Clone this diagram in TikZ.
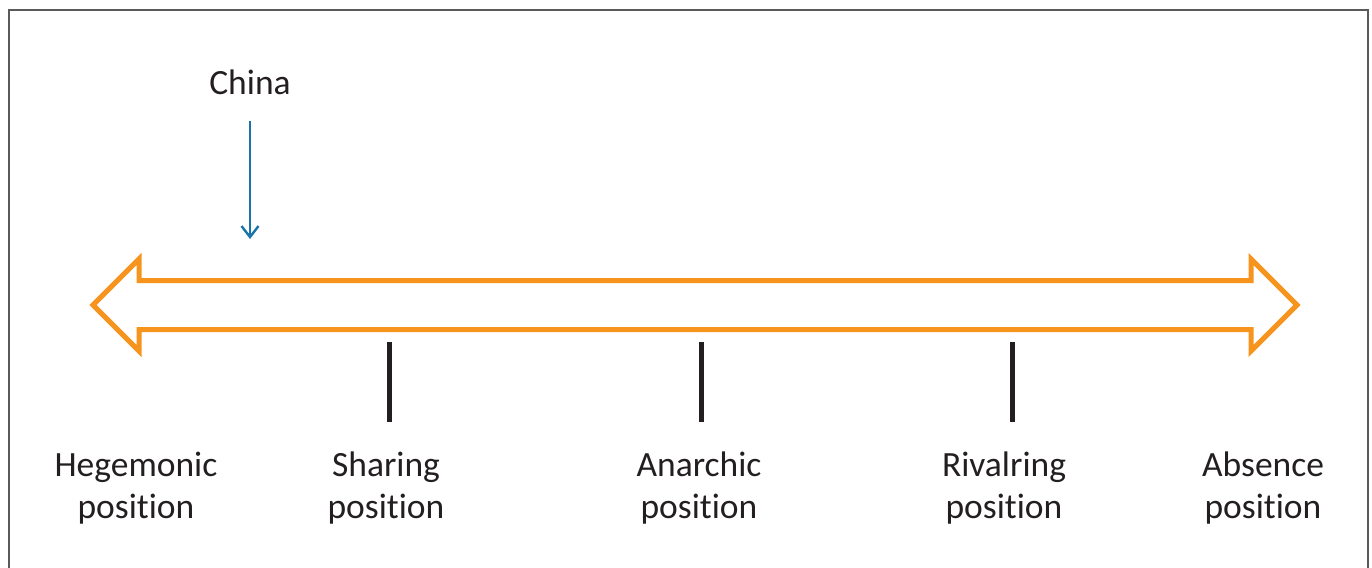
\documentclass[tikz,border=0pt]{standalone}
\usepackage{fontspec}
\setmainfont{Carlito}[Ligatures=NoCommon]
\usetikzlibrary{arrows.meta, positioning, shapes.arrows}

\definecolor{scaleorange}{HTML}{F7941D}
\definecolor{chinablue}{HTML}{1A74AA}
\definecolor{tickgray}{HTML}{231F20}
\definecolor{framegray}{HTML}{5A5A5A}

\begin{document}
\begin{tikzpicture}[x=1pt, y=-1pt,
    frame/.style={draw=framegray, line width=2pt},
    scalearrow/.style={double arrow, draw=scaleorange, line width=5pt, miter limit=20,
        double arrow head extend=21.5pt, double arrow head indent=0pt,
        inner xsep=0pt, inner ysep=22pt, outer sep=0pt, minimum height=1204pt},
    tickmark/.style={draw=tickgray, line width=5pt},
    pointer/.style={draw=chinablue, line width=2.4pt,
        -{Straight Barb[length=11pt, width=17pt, line width=2.4pt]}},
    lbl/.style={align=center, inner sep=0pt, anchor=base, text=tickgray,
        font=\fontsize{35.5}{42}\selectfont}
]
    \useasboundingbox (0,0) rectangle (1372,567);
    \draw[frame] (9,10) rectangle (1368,600);

    % the scale
    \node[scalearrow] (scale) at (695,305) {};

    % ticks
    \draw[tickmark] (389,342) -- (389,422);
    \draw[tickmark] (701,342) -- (701,422);
    \draw[tickmark] (1012,342) -- (1012,422);

    % positions
    \node[lbl] (hegemonic) at (136,518) {Hegemonic\\position};
    \node[lbl] (sharing) at (386,518) {Sharing\\position};
    \node[lbl] (anarchic) at (699,518) {Anarchic\\position};
    \node[lbl] (rivalring) at (1004,518) {Rivalring\\position};
    \node[lbl] (absence) at (1263,518) {Absence\\position};

    % China
    \node[lbl] (china) at (250,95) {China};
    \coordinate (chinatip) at (250,239);
    \draw[pointer, shorten <=26pt] (china.base) -- (chinatip);
\end{tikzpicture}
\end{document}
